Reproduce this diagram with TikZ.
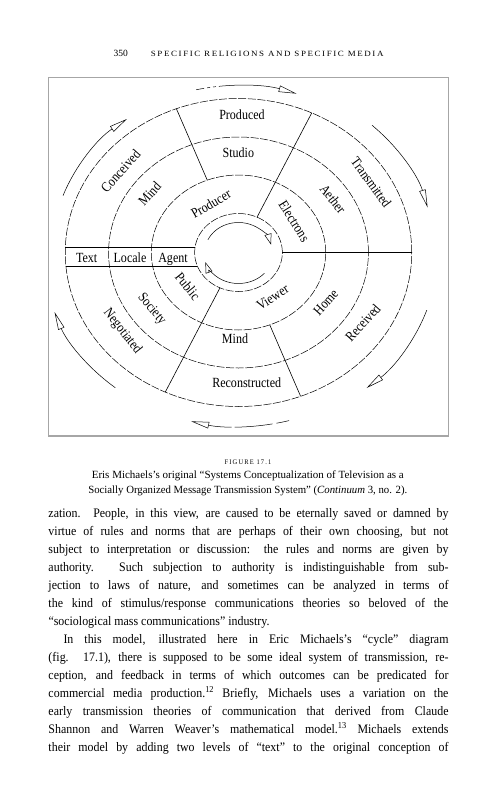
\documentclass[tikz,border=0pt]{standalone}
\usepackage{fontspec}
\usepackage{graphicx}
\setmainfont{Liberation Serif}
\newfontfamily\spacedfont[LetterSpace=18]{Liberation Serif}
\usetikzlibrary{arrows.meta}
\newcommand\lb[1]{\scalebox{0.86}[1]{\fontsize{14}{16}\selectfont #1}}
\newcommand\bodyfont{\fontsize{13}{18}\selectfont}
\newcommand\jline[2]{\resizebox{#1}{\height}{\makebox[\dimexpr #1*1000/917\relax][s]{\bodyfont #2}}}
\newcommand\capline[2]{\resizebox{#1}{\height}{\fontsize{11}{13}\selectfont #2}}
\begin{document}
\begin{tikzpicture}[x=1pt,y=1pt,
  ring/.style={line width=0.5pt, dash pattern=on 8pt off 1.6pt},
  spoke/.style={line width=0.6pt},
  lab/.style={inner sep=0pt, text height=9pt, text depth=2.5pt},
  cyc/.style={line width=0.5pt, -{Triangle[open,length=18pt,width=6.5pt]}},
  inarr/.style={line width=0.5pt, -{Triangle[open,length=11pt,width=7pt]}},
  frame/.style={draw=gray!70, line width=1.2pt},
  txt/.style={inner sep=0pt, anchor=base west}]
\fill[white] (0,0) rectangle (494,-800);
\useasboundingbox (0,0) rectangle (494,-800);

% header
\node[txt] (pg) at (113.3,-56.5) {\fontsize{9.5}{10}\selectfont 350};
\node[txt] (hd) at (150.7,-56.5) {\resizebox{232.6pt}{\height}{\spacedfont\fontsize{8}{10}\selectfont SPECIFIC RELIGIONS AND SPECIFIC MEDIA}};

% frame
\draw[frame] (48.3,-77.3) rectangle (448.3,-436);

\begin{scope}[shift={(238.5,-252.5)}, xscale=1.125]
  \coordinate (c) at (0,0);
  \draw[ring] (c) circle (39);
  \draw[ring] (c) circle (77.5);
  \draw[ring] (c) circle (115.5);
  \draw[ring] (c) circle (154);
  % spokes
  \coordinate (s1a) at (111:77.5);  \coordinate (s1b) at (111:154);
  \coordinate (s2a) at (65:39);     \coordinate (s2b) at (65:154);
  \coordinate (s3a) at (0:39);      \coordinate (s3b) at (0:154);
  \coordinate (s4a) at (-69:77.5);  \coordinate (s4b) at (-69:154);
  \coordinate (s5a) at (245:39);    \coordinate (s5b) at (245:154);
  \coordinate (bt1) at (-153.9,5.5);  \coordinate (bt2) at (-38.6,5.5);
  \coordinate (bb1) at (-153.4,-13.5); \coordinate (bb2) at (-36.6,-13.5);
  \draw[spoke] (s1a) -- (s1b);
  \draw[spoke] (s2a) -- (s2b);
  \draw[spoke] (s3a) -- (s3b);
  \draw[spoke] (s4a) -- (s4b);
  \draw[spoke] (s5a) -- (s5b);
  \draw[spoke] (bt1) -- (bt2);
  \draw[spoke] (bb1) -- (bb2);
  % inner cycle arrows
  \coordinate (ia) at (155:30);
  \coordinate (ib) at (-42:31);
  \draw[inarr] (ia) arc[start angle=155, end angle=15, radius=30];
  \draw[inarr] (ib) arc[start angle=-42, end angle=-162, radius=31];
  % outer cycle arrows
  \coordinate (o1) at (103:167);
  \coordinate (o2) at (47:174);
  \coordinate (o3) at (-19:177);
  \coordinate (o4) at (-75:174);
  \coordinate (o5) at (231:174);
  \coordinate (o6) at (160:166);
  \draw[cyc, dash pattern=on 8pt off 3pt on 3pt off 3pt on 3pt off 3pt on 120pt] (o1) arc[start angle=103, end angle=72, radius=167];
  \draw[cyc] (o2) arc[start angle=47, end angle=15, radius=174];
  \draw[cyc] (o3) arc[start angle=-19, end angle=-50, radius=177];
  \draw[cyc, dash pattern=on 13pt off 4pt on 38pt off 3pt on 60pt] (o4) arc[start angle=-75, end angle=-104, radius=174];
  \draw[cyc] (o5) arc[start angle=231, end angle=200, radius=174];
  \draw[cyc] (o6) arc[start angle=160, end angle=127, radius=168];
\end{scope}

% labels
\node[lab] (produced) at (242,-116.7) {\lb{Produced}};
\node[lab] (studio) at (238.3,-154) {\lb{Studio}};
\node[lab, rotate=48] (conceived) at (121.7,-171.7) {\lb{Conceived}};
\node[lab, rotate=48] (mind1) at (150.7,-195) {\lb{Mind}};
\node[lab, rotate=30] (producer) at (211.7,-205) {\lb{Producer}};
\node[lab, rotate=-58] (electrons) at (293,-222) {\lb{Electrons}};
\node[lab, rotate=-52] (aether) at (331.7,-200) {\lb{Aether}};
\node[lab, rotate=-54] (transmitted) at (370,-183.3) {\lb{Transmitted}};
\node[lab] (text) at (86.7,-259.5) {\lb{Text}};
\node[lab] (locale) at (130,-259.5) {\lb{Locale}};
\node[lab] (agent) at (173,-259.5) {\lb{Agent}};
\node[lab, rotate=-51] (public) at (186.7,-287.3) {\lb{Public}};
\node[lab, rotate=32] (viewer) at (273.3,-298.3) {\lb{Viewer}};
\node[lab, rotate=48] (home) at (326.7,-303.3) {\lb{Home}};
\node[lab, rotate=48] (received) at (364,-324) {\lb{Received}};
\node[lab, rotate=-50] (society) at (151.7,-309.3) {\lb{Society}};
\node[lab, rotate=-52] (negotiated) at (122.3,-331.7) {\lb{Negotiated}};
\node[lab] (mind2) at (235,-340.7) {\lb{Mind}};
\node[lab] (reconstructed) at (246.7,-384) {\lb{Reconstructed}};

% caption
\node[inner sep=0pt, anchor=base] (fig) at (248,-464) {\resizebox{46.7pt}{\height}{\spacedfont\fontsize{7}{8}\selectfont FIGURE 17.1}};
\node[inner sep=0pt, anchor=base] (cap1) at (247.8,-478) {\capline{312pt}{Eris Michaels’s original “Systems Conceptualization of Television as a}};
\node[inner sep=0pt, anchor=base] (cap2) at (247.8,-493.3) {\capline{319pt}{Socially Organized Message Transmission System” (\textit{Continuum} 3, no. 2).}};

% body
\node[txt] (b0) at (48.3,-517) {\jline{400pt}{zation. People, in this view, are caused to be eternally saved or damned by}};
\node[txt] (b1) at (48.3,-535) {\jline{400pt}{virtue of rules and norms that are perhaps of their own choosing, but not}};
\node[txt] (b2) at (48.3,-553) {\jline{400pt}{subject to interpretation or discussion: the rules and norms are given by}};
\node[txt] (b3) at (48.3,-571) {\jline{400pt}{authority. Such subjection to authority is indistinguishable from sub-}};
\node[txt] (b4) at (48.3,-589) {\jline{400pt}{jection to laws of nature, and sometimes can be analyzed in terms of}};
\node[txt] (b5) at (48.3,-607) {\jline{400pt}{the kind of stimulus/response communications theories so beloved of the}};
\node[txt] (b6) at (48.3,-625) {\scalebox{0.917}[1]{\bodyfont “sociological mass communications” industry.}};
\node[txt] (b7) at (63.3,-643) {\jline{385pt}{In this model, illustrated here in Eric Michaels’s “cycle” diagram}};
\node[txt] (b8) at (48.3,-661) {\jline{400pt}{(fig. 17.1), there is supposed to be some ideal system of transmission, re-}};
\node[txt] (b9) at (48.3,-679) {\jline{400pt}{ception, and feedback in terms of which outcomes can be predicated for}};
\node[txt] (b10) at (48.3,-697) {\jline{400pt}{commercial media production.\textsuperscript{12} Briefly, Michaels uses a variation on the}};
\node[txt] (b11) at (48.3,-715) {\jline{400pt}{early transmission theories of communication that derived from Claude}};
\node[txt] (b12) at (48.3,-733) {\jline{400pt}{Shannon and Warren Weaver’s mathematical model.\textsuperscript{13} Michaels extends}};
\node[txt] (b13) at (48.3,-751) {\jline{400pt}{their model by adding two levels of “text” to the original conception of}};
\end{tikzpicture}
\end{document}
